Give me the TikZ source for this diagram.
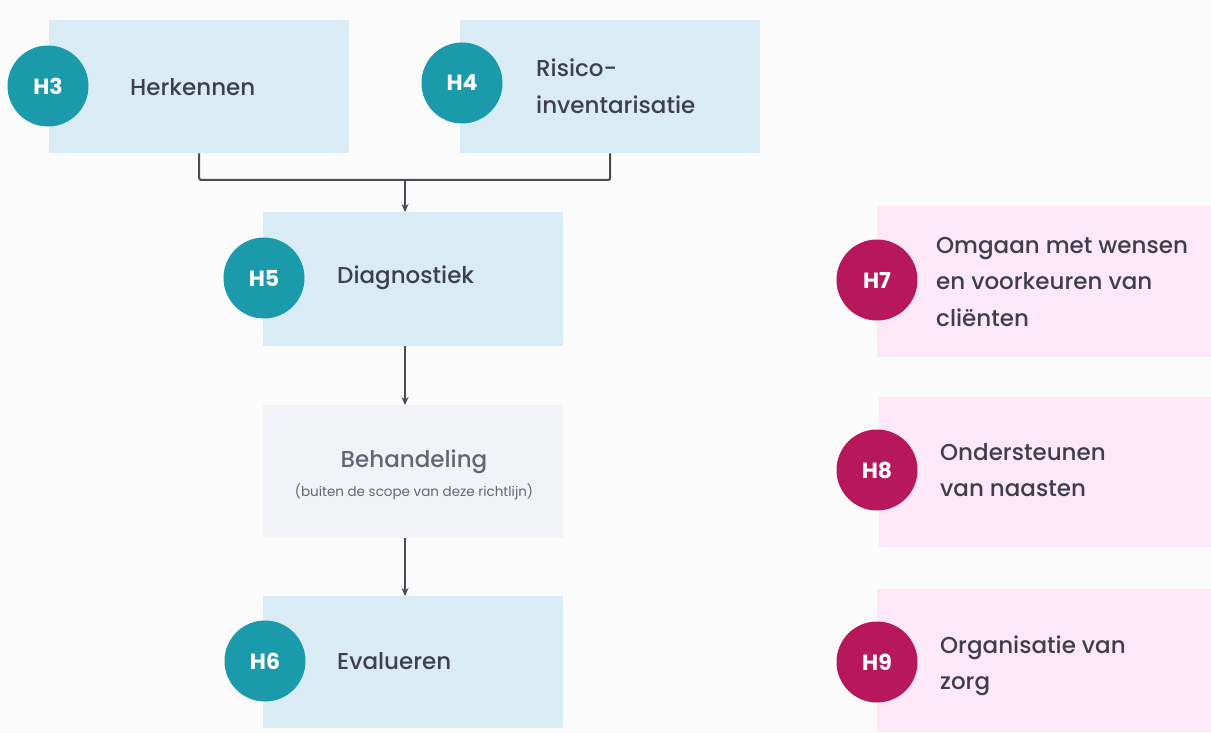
\documentclass[tikz,border=0pt]{standalone}
\usepackage{fontspec}
\setmainfont{Poppins}
\newfontfamily\medfont{Poppins Medium}
\usetikzlibrary{arrows.meta}
\definecolor{bg}{HTML}{FBFBFC}
\definecolor{bluebox}{HTML}{D9ECF6}
\definecolor{graybox}{HTML}{F2F3F7}
\definecolor{pinkbox}{HTML}{FDE8F7}
\definecolor{teal}{HTML}{1A9AAA}
\definecolor{crimson}{HTML}{B7185B}
\definecolor{ink}{HTML}{3E3E4E}
\definecolor{line}{HTML}{4A4A55}
\tikzset{
  box/.style={rectangle, draw=none, anchor=north west, inner sep=0pt},
  bbox/.style={box, fill=bluebox},
  gbox/.style={box, fill=graybox},
  pbox/.style={box, fill=pinkbox},
  badge/.style={circle, minimum size=81pt, inner sep=0pt, text=white, font=\fontsize{22}{22}\selectfont\bfseries},
  tbadge/.style={badge, fill=teal},
  cbadge/.style={badge, fill=crimson},
  lbl/.style={anchor=west, text=ink, align=left, inner sep=0pt, font=\medfont\fontsize{23}{36.5}\selectfont},
  conn/.style={draw=line, line width=2pt},
  arr/.style={conn, -{Stealth[length=8pt,width=7pt]}}
}
\begin{document}
\begin{tikzpicture}[x=1pt,y=-1pt]
\fill[bg] (0,0) rectangle (1211,733);
\useasboundingbox (0,0) rectangle (1211,733);
% boxes
\node[bbox, minimum width=300pt, minimum height=133pt] (herk) at (49,20) {};
\node[bbox, minimum width=300pt, minimum height=133pt] (risk) at (460,20) {};
\node[bbox, minimum width=300pt, minimum height=134pt] (diag) at (263,212) {};
\node[gbox, minimum width=300pt, minimum height=133pt] (beh) at (263,405) {};
\node[bbox, minimum width=300pt, minimum height=132pt] (eval) at (263,596) {};
\node[pbox, minimum width=334pt, minimum height=151pt] (omg) at (877,206) {};
\node[pbox, minimum width=332pt, minimum height=150pt] (ond) at (879,397) {};
\node[pbox, minimum width=334pt, minimum height=143pt] (org) at (877,589) {};
% badges
\node[tbadge] (h3) at (48,86) {H3};
\node[tbadge] (h4) at (462,83) {H4};
\node[tbadge] (h5) at (264,278) {H5};
\node[tbadge] (h6) at (265,661) {H6};
\node[cbadge] (h7) at (877,280) {H7};
\node[cbadge] (h8) at (877,470) {H8};
\node[cbadge] (h9) at (877,662) {H9};
% labels
\node[lbl] (t3) at (130,87) {Herkennen};
\node[lbl] (t4) at (536,86) {Risico-\\inventarisatie};
\node[lbl] (t5) at (337,278) {Diagnostiek};
\node[anchor=center, text=ink!80, inner sep=0pt, font=\medfont\fontsize{23}{23}\selectfont] (t-beh) at (414,462) {Behandeling};
\node[anchor=center, text=ink!80, inner sep=0pt, font=\fontsize{13.5}{13.5}\selectfont] (t-beh2) at (414,492) {(buiten de scope van deze richtlijn)};
\node[lbl] (t6) at (337,661) {Evalueren};
\node[lbl] (t7) at (936,282) {Omgaan met wensen\\en voorkeuren van\\cliënten};
\node[lbl] (t8) at (940,470) {Ondersteunen\\van naasten};
\node[lbl] (t9) at (940,666) {Organisatie van\\zorg};
% connectors
\coordinate (j) at (405,180);
\draw[conn, rounded corners=2pt] (herk.south) |- (j) -| (risk.south);
\draw[arr] (j) -- (j |- diag.north);
\draw[arr] (j |- diag.south) -- (j |- beh.north);
\draw[arr] (j |- beh.south) -- (j |- eval.north);
\end{tikzpicture}
\end{document}
